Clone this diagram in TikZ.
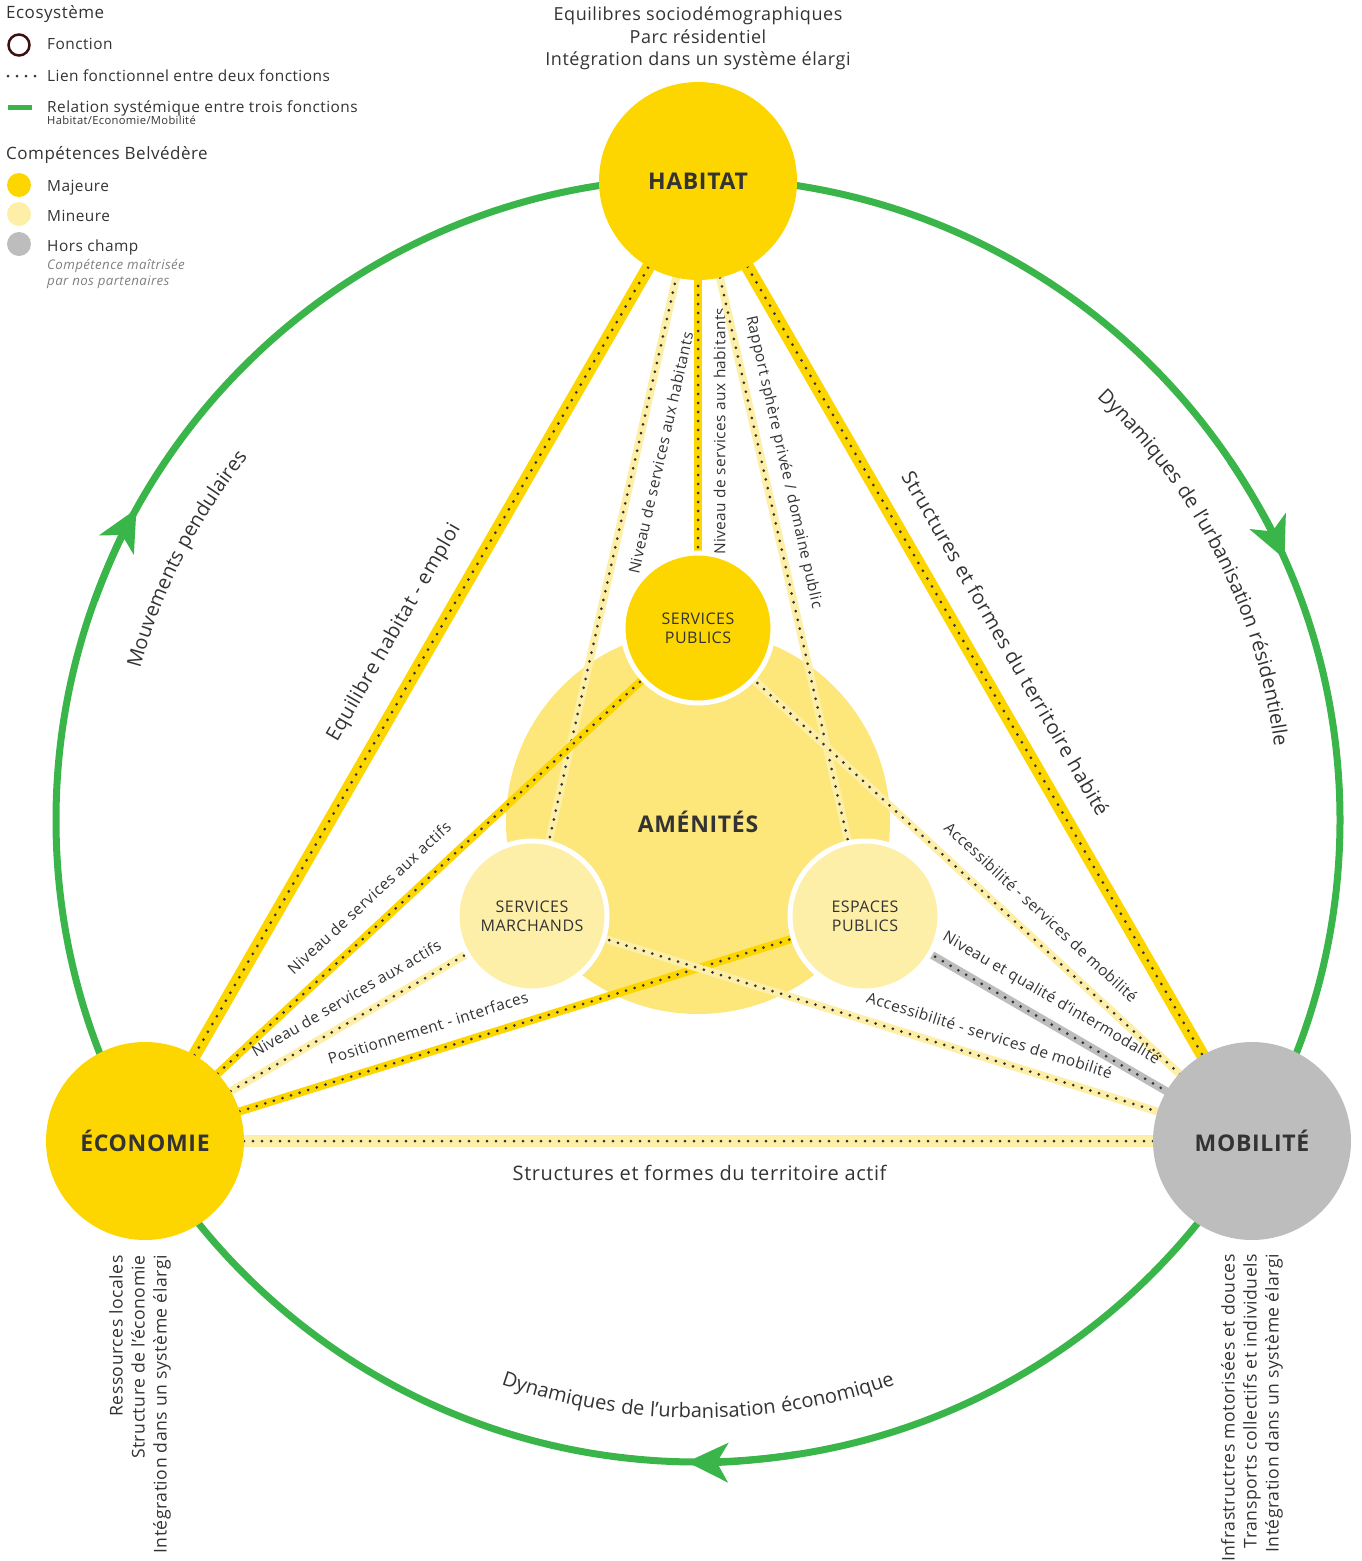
\documentclass[tikz,border=0pt]{standalone}
\usepackage{fontspec}
\setmainfont{Open Sans}[LetterSpace=3]
\usetikzlibrary{positioning,arrows.meta,decorations.text}

\definecolor{majeur}{HTML}{FDD600}
\definecolor{mineur}{HTML}{FEEFA8}
\definecolor{amenite}{HTML}{FDE67A}
\definecolor{horschamp}{HTML}{BDBDBD}
\definecolor{vert}{HTML}{3AB54A}
\definecolor{encre}{HTML}{333333}
\definecolor{brun}{HTML}{3B0F0F}

\pgfdeclarelayer{back}
\pgfdeclarelayer{links}
\pgfsetlayers{back,links,main}

\newcommand{\setfs}[2]{\fontsize{#1}{#2}\selectfont}

\tikzset{
  fonction/.style={circle, fill=majeur, minimum size=198pt, inner sep=0pt, text=encre, font=\setfs{23}{26}\bfseries},
  service/.style={circle, draw=white, line width=5pt, minimum size=150pt, inner sep=0pt, align=center, text=encre, font=\setfs{16}{19}},
  lien/.style={line width=8pt, postaction={draw=encre, line width=3pt, line cap=round, dash pattern=on 0pt off 9pt}},
  fort/.style={lien, line width=13pt},
  lbl/.style={sloped, inner sep=0pt, text=encre, text height=11.5pt, text depth=3pt, font=\setfs{15.4}{18}},
  grandlbl/.style={lbl, text height=15pt, text depth=4pt, font=\setfs{20}{22}},
  legtxt/.style={anchor=base west, inner sep=0pt, text=encre, font=\setfs{15.4}{18}},
  legtitre/.style={legtxt, font=\setfs{17}{20}},
  enjeu/.style={inner sep=0pt, text=encre, font=\setfs{18}{22.5}},
  systeme/.style={draw=vert, line width=7pt},
  fleche/.style={systeme, -{Stealth[length=41pt, width=39pt, inset=11pt]}},
  courbe/.style={decorate, decoration={text along path, text align=center, text color=encre}}
}

\begin{document}
\begin{tikzpicture}[x=1pt, y=1pt]
\useasboundingbox (0,0) rectangle (1362,-1561);

% legende
\node[legtitre] (leg-ecosys) at (6,-18) {Ecosystème};
\node[circle, draw=brun, line width=2.5pt, minimum size=21pt] (leg-fct-pic) at (19,-45) {};
\node[legtxt] (leg-fct) at (47,-49) {Fonction};
\draw[encre, line width=3pt, line cap=round, dash pattern=on 0pt off 9pt] (8,-76) -- (40,-76);
\node[legtxt] (leg-lien) at (47,-81) {Lien fonctionnel entre deux fonctions};
\draw[vert, line width=5pt] (8,-107) -- (32,-107);
\node[legtxt] (leg-rel) at (47,-112) {Relation systémique entre trois fonctions};
\node[legtxt, font=\setfs{11.2}{13}] (leg-rel-sub) at (47,-124) {Habitat/Economie/Mobilité};
\node[legtitre] (leg-comp) at (6,-159) {Compétences Belvédère};
\node[circle, fill=majeur, minimum size=24pt] (leg-maj-pic) at (19,-185) {};
\node[legtxt] (leg-maj) at (47,-191) {Majeure};
\node[circle, fill=mineur, minimum size=24pt] (leg-min-pic) at (19,-214) {};
\node[legtxt] (leg-min) at (47,-221) {Mineure};
\node[circle, fill=horschamp, minimum size=24pt] (leg-hc-pic) at (19,-244) {};
\node[legtxt] (leg-hc) at (47,-251) {Hors champ};
\node[legtxt, text=gray, font=\setfs{13.3}{16}\itshape] (leg-hc-sub) at (47,-269) {Compétence maîtrisée};
\node[legtxt, text=gray, font=\setfs{13.3}{16}\itshape] (leg-hc-sub2) at (47,-285) {par nos partenaires};

% fonctions
\coordinate (ctr) at (698,-820);
\node[fonction] (habitat) at (698,-181) {HABITAT};
\node[fonction] (economie) at (145,-1141) {ÉCONOMIE};
\node[fonction, fill=horschamp] (mobilite) at (1252,-1141) {MOBILITÉ};

\node[service, fill=majeur] (publics) at (698,-628) {SERVICES\\PUBLICS};
\node[service, fill=mineur] (marchands) at (532,-916) {SERVICES\\MARCHANDS};
\node[service, fill=mineur] (espaces) at (865,-916) {ESPACES\\PUBLICS};

\node[enjeu, align=center, anchor=north] (enjeux-hab) at (698,-7) {Equilibres sociodémographiques\\Parc résidentiel\\Intégration dans un système élargi};
\node[enjeu, font=\setfs{17.6}{22}, rotate=90, align=right, anchor=north east] (enjeux-eco) at (109,-1255) {Ressources locales\\Structure de l’économie\\Intégration dans un système élargi};
\node[enjeu, font=\setfs{17.6}{22}, rotate=90, align=right, anchor=north east] (enjeux-mob) at (1221,-1254) {Infrastructres motorisées et douces\\Transports collectifs et individuels\\Intégration dans un système élargi};

% cercle systemique + amenites
\begin{pgfonlayer}{back}
\draw[systeme] (ctr) circle[radius=642];
\draw[fleche] (ctr) ++(160:642) arc[start angle=160, end angle=151, radius=642];
\draw[fleche] (ctr) ++(34:642) arc[start angle=34, end angle=24, radius=642];
\draw[fleche] (ctr) ++(279:642) arc[start angle=279, end angle=269, radius=642];
\node[circle, fill=amenite, minimum size=384pt, text=encre, font=\setfs{23}{26}\bfseries] (amenites) at (698,-822) {AMÉNITÉS};
\end{pgfonlayer}

\path[courbe, decoration={text={|\setfs{20}{20}|Mouvements pendulaires}}] (ctr) ++(178:578) arc[start angle=178, end angle=128, radius=578];
\path[courbe, decoration={text={|\setfs{20}{20}|Dynamiques de l’urbanisation résidentielle}}] (ctr) ++(57:581) arc[start angle=57, end angle=-3, radius=581];
\path[courbe, decoration={text={|\setfs{20}{20}|Dynamiques de l’urbanisation économique}}] (ctr) ++(240:598) arc[start angle=240, end angle=300, radius=598];

% liens
\begin{pgfonlayer}{links}
\draw[fort, majeur] (economie.center) -- node[grandlbl, pos=.51, above=22pt] (l-emploi) {Equilibre habitat - emploi} (habitat.center);
\draw[fort, majeur] (habitat.center) -- node[grandlbl, pos=.5, above=17.5pt] (l-habite) {Structures et formes du territoire habité} (mobilite.center);
\draw[lien, mineur, line width=12pt] (economie.center) -- node[grandlbl, pos=.501, below=18.5pt] (l-actif) {Structures et formes du territoire actif} (mobilite.center);
\draw[lien, majeur] (publics.center) -- node[lbl, pos=.44, below=11.75pt] (l-hab-pub) {Niveau de services aux habitants} (habitat.center);
\draw[lien, mineur] (marchands.center) -- node[lbl, pos=.637, below=13.75pt] (l-hab-mar) {Niveau de services aux habitants} (habitat.center);
\draw[lien, mineur] (habitat.center) -- node[lbl, pos=.389, above=10pt] (l-hab-esp) {Rapport sphère privée / domaine public} (espaces.center);
\draw[lien, majeur] (economie.center) -- node[lbl, pos=.437, above=13pt] (l-eco-pub) {Niveau de services aux actifs} (publics.center);
\draw[lien, mineur] (economie.center) -- node[lbl, pos=.549, above=9.5pt] (l-eco-mar) {Niveau de services aux actifs} (marchands.center);
\draw[lien, majeur] (economie.center) -- node[lbl, pos=.403, above=11pt] (l-eco-esp) {Positionnement - interfaces} (espaces.center);
\draw[lien, mineur] (publics.center) -- node[lbl, pos=.589, above=12pt] (l-mob-pub) {Accessibilité - services de mobilité} (mobilite.center);
\draw[lien, horschamp] (espaces.center) -- node[lbl, pos=.452, above=11pt] (l-mob-esp) {Niveau et qualité d’intermodalité} (mobilite.center);
\draw[lien, mineur] (marchands.center) -- node[lbl, pos=.626, above=10pt] (l-mob-mar) {Accessibilité - services de mobilité} (mobilite.center);
\end{pgfonlayer}

\end{tikzpicture}
\end{document}
